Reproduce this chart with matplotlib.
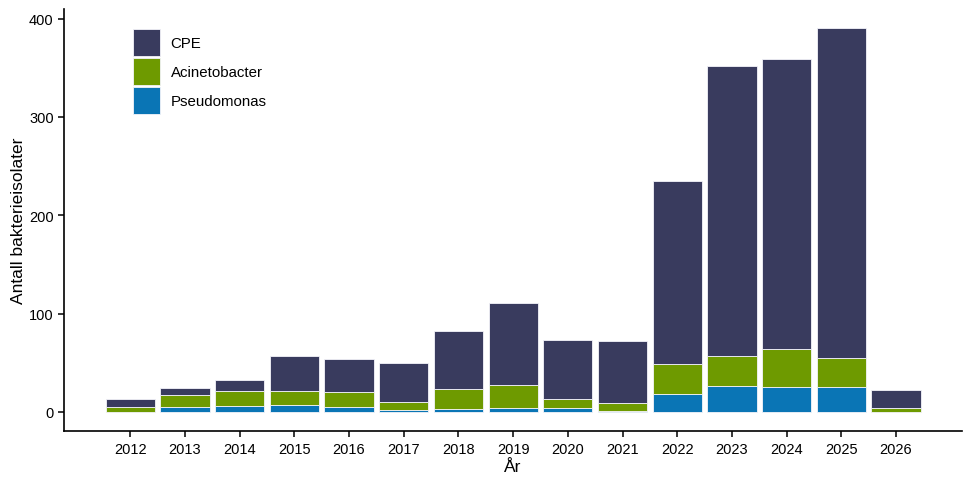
import numpy as np
import matplotlib
matplotlib.use("Agg")
import matplotlib.pyplot as plt

years = [str(y) for y in range(2012, 2027)]
pseudomonas = [0, 5, 6, 7, 5, 2, 3, 4, 4, 1, 18, 26, 25, 25, 0]
acinetobacter = [5, 12, 15, 14, 15, 8, 20, 23, 9, 8, 31, 31, 39, 30, 4]
cpe = [8, 7, 11, 36, 34, 40, 59, 84, 60, 63, 186, 295, 295, 335, 18]

col_cpe = "#393B5E"
col_aci = "#6E9A00"
col_pse = "#0A75B5"

plt.rcParams["font.family"] = ["Liberation Sans", "DejaVu Sans"]

fig = plt.figure(figsize=(9.7, 4.85), dpi=100)
ax = fig.add_axes([0.066, 0.109, 0.926, 0.870])

x = np.arange(len(years))
pse = np.array(pseudomonas)
aci = np.array(acinetobacter)
cp = np.array(cpe)

ax.bar(x, pse, width=0.9, color=col_pse, edgecolor="#f4f4fa", linewidth=0.6, label="Pseudomonas")
ax.bar(x, aci, width=0.9, bottom=pse, color=col_aci, edgecolor="#f4f4fa", linewidth=0.6, label="Acinetobacter")
ax.bar(x, cp, width=0.9, bottom=pse + aci, color=col_cpe, edgecolor="#f4f4fa", linewidth=0.6, label="CPE")

ax.set_xlim(-1.21, len(years) - 1 + 1.21)
ax.set_ylim(-19.5, 409.5)
ax.set_xticks(x)
ax.set_xticklabels(years)
ax.set_yticks([0, 100, 200, 300, 400])

for s in ["top", "right"]:
    ax.spines[s].set_visible(False)
for s in ["left", "bottom"]:
    ax.spines[s].set_linewidth(1.2)
ax.tick_params(axis="both", length=4.5, width=1.1, labelsize=10.5, colors="black", pad=3)

ax.set_xlabel("År", fontsize=12.5, labelpad=2.5)
ax.set_ylabel("Antall bakterieisolater", fontsize=12.5, labelpad=2)

h, l = ax.get_legend_handles_labels()
ax.legend(h[::-1], l[::-1], loc="upper left", bbox_to_anchor=(0.0768, 0.953),
          frameon=False, fontsize=10.8, borderpad=0, handlelength=1.8,
          handleheight=2.39, labelspacing=0.13, handletextpad=0.7,
          borderaxespad=0)

fig.savefig("out.png", dpi=100)
